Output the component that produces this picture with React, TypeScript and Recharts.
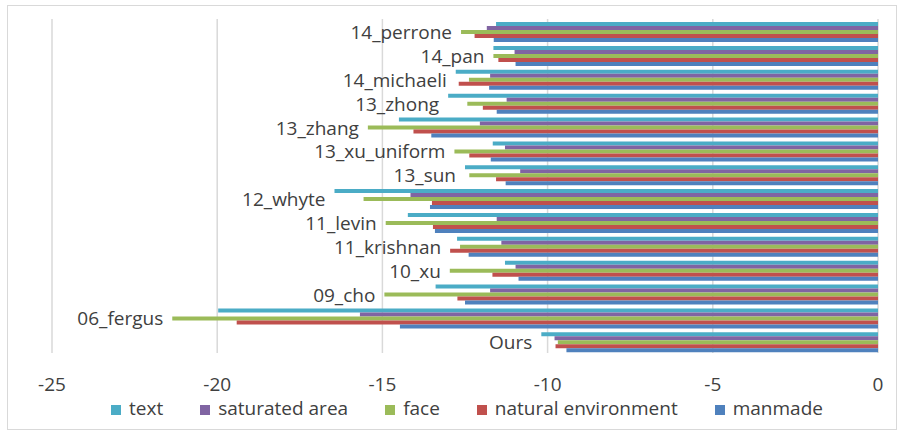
import React from "react";
import { BarChart, Bar, XAxis, YAxis, CartesianGrid, LabelList } from "recharts";

// Methods, top to bottom
const methods = [
  "14_perrone", "14_pan", "14_michaeli", "13_zhong", "13_zhang", "13_xu_uniform", "13_sun",
  "12_whyte", "11_levin", "11_krishnan", "10_xu", "09_cho", "06_fergus", "Ours",
];

const textVals = [-11.56, -11.64, -12.78, -13.01, -14.5, -11.66, -12.5, -16.45, -14.23, -12.74, -11.29, -13.39, -19.97, -10.19];
const saturatedVals = [-11.84, -11.0, -11.74, -11.24, -12.05, -11.29, -10.83, -14.15, -11.54, -11.4, -10.97, -11.74, -15.68, -9.79];
const faceVals = [-12.62, -11.64, -12.38, -12.43, -15.44, -12.82, -12.37, -15.57, -14.9, -12.65, -12.96, -14.94, -21.36, -9.69];
const naturalVals = [-12.21, -11.49, -12.69, -11.96, -14.06, -12.37, -11.56, -13.5, -13.47, -12.95, -11.67, -12.73, -19.41, -9.76];
const manmadeVals = [-11.63, -10.97, -11.77, -11.54, -13.52, -11.72, -11.27, -13.56, -13.41, -12.39, -10.88, -12.5, -14.47, -9.43];

const xTicks = [-25, -20, -15, -10, -5, 0];

const series = [
  { key: "text", name: "text", color: "#4BACC6" },
  { key: "saturated", name: "saturated area", color: "#8064A2" },
  { key: "face", name: "face", color: "#9BBB59" },
  { key: "natural", name: "natural environment", color: "#C0504D" },
  { key: "manmade", name: "manmade", color: "#4F81BD" },
];

const rows = methods.map((m, i) => ({
  name: m,
  text: textVals[i],
  saturated: saturatedVals[i],
  face: faceVals[i],
  natural: naturalVals[i],
  manmade: manmadeVals[i],
}));

const FONT = "'Open Sans', sans-serif";
const TEXT_COLOR = "#404040";

// puts the method name just left of the longest bar in its group
const GroupLabel = (props: any) => {
  const vb = props.viewBox || props;
  const { x, y, width, height } = vb;
  const i = props.index;
  const row = rows[i];
  if (!row || x == null) return null;
  const left = Math.min(x, x + width);
  const right = Math.max(x, x + width);
  const ppu = (right - left) / Math.abs(row.text);
  const minVal = Math.min(row.text, row.saturated, row.face, row.natural, row.manmade);
  const tip = right - Math.abs(minVal) * ppu;
  const cy = Math.min(y, y + height) + Math.abs(height) * 2.5;
  return (
    <text x={tip - 9} y={cy} textAnchor="end" dominantBaseline="central"
      fontFamily={FONT} fontSize={19} fill={TEXT_COLOR}>
      {row.name}
    </text>
  );
};

const LegendBox = () => (
  <div style={{ position: "absolute", left: 0, top: 398, width: 904, display: "flex", justifyContent: "center", gap: 37, fontFamily: FONT, fontSize: 19, color: TEXT_COLOR, lineHeight: "20px", paddingLeft: 30, boxSizing: "border-box" }}>
    {series.map((s) => (
      <div key={s.key} style={{ display: "flex", alignItems: "center" }}>
        <span style={{ width: 10, height: 10, background: s.color, display: "inline-block", marginRight: 8, marginTop: 3 }} />
        <span>{s.name}</span>
      </div>
    ))}
  </div>
);

export default function App() {
  return (
    <div style={{ position: "absolute", left: 0, top: 0, width: 904, height: 436, background: "#fff" }}>
      <div style={{ position: "absolute", left: 7, top: 5, width: 890, height: 425, border: "1px solid #D9D9D9", boxSizing: "border-box" }} />
      <BarChart
        width={904}
        height={436}
        data={rows}
        layout="vertical"
        margin={{ top: 19, right: 26, left: 52, bottom: 53 }}
        barCategoryGap="13%"
        barGap={0}
      >
        <CartesianGrid horizontal={false} stroke="#D9D9D9" strokeWidth={1.5} />
        <XAxis
          type="number"
          domain={[-25, 0]}
          ticks={xTicks}
          axisLine={false}
          tickLine={false}
          height={30}
          tickMargin={19}
          tick={{ fontFamily: FONT, fontSize: 19, fill: TEXT_COLOR }}
        />
        <YAxis type="category" dataKey="name" hide />
        {series.map((s) => (
          <Bar key={s.key} dataKey={s.key} name={s.name} fill={s.color} isAnimationActive={false}>
            {s.key === "text" && <LabelList dataKey="text" content={GroupLabel} />}
          </Bar>
        ))}
      </BarChart>
      <LegendBox />
    </div>
  );
}
